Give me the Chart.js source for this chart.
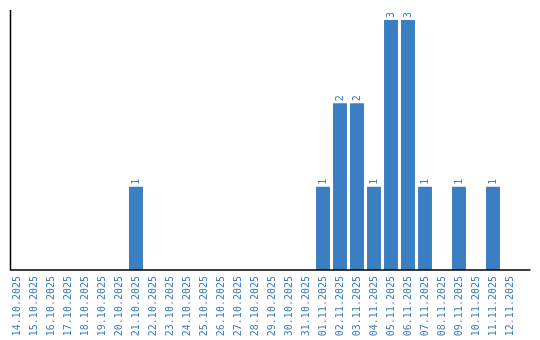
<!DOCTYPE html>
<html>
<head>
<meta charset="utf-8">
<script src="https://cdn.jsdelivr.net/npm/chart.js@4/dist/chart.umd.min.js"></script>
<style>
  html, body { margin: 0; padding: 0; background: #fff; }
  #wrap { width: 540px; height: 340px; }
</style>
</head>
<body>
<div id="wrap"><canvas id="barChart"></canvas></div>
<script>
const dates = ['14.10.2025', '15.10.2025', '16.10.2025', '17.10.2025', '18.10.2025', '19.10.2025',
    '20.10.2025', '21.10.2025', '22.10.2025', '23.10.2025', '24.10.2025', '25.10.2025',
    '26.10.2025', '27.10.2025', '28.10.2025', '29.10.2025', '30.10.2025', '31.10.2025',
    '01.11.2025', '02.11.2025', '03.11.2025', '04.11.2025', '05.11.2025', '06.11.2025',
    '07.11.2025', '08.11.2025', '09.11.2025', '10.11.2025', '11.11.2025', '12.11.2025'];
const counts = [0, 0, 0, 0, 0, 0, 0, 1, 0, 0, 0, 0, 0, 0, 0, 0, 0, 0,
    1, 2, 2, 1, 3, 3, 1, 0, 1, 0, 1, 0];

const blue = '#3b7ec2';

// axis lines: y sits a bit inside the first category, x runs past the last one
const axisLines = {
    id: 'axisLines',
    afterDatasetsDraw(chart) {
        const c = chart.ctx;
        const a = chart.chartArea;
        c.save();
        c.strokeStyle = '#000';
        c.lineWidth = 1.5;
        c.beginPath();
        c.moveTo(a.left + 2, a.top);
        c.lineTo(a.left + 2, a.bottom);
        c.lineTo(a.right + 12, a.bottom);
        c.stroke();
        c.restore();
    }
};

// value labels, rotated, over each bar
const barLabels = {
    id: 'barLabels',
    afterDatasetsDraw(chart) {
        const c = chart.ctx;
        const meta = chart.getDatasetMeta(0);
        c.save();
        c.fillStyle = blue;
        c.font = '10px "DejaVu Sans Mono"';
        c.textAlign = 'left';
        c.textBaseline = 'middle';
        meta.data.forEach((bar, i) => {
            if (!counts[i]) return;
            c.save();
            c.translate(bar.x, bar.y - 2);
            c.rotate(-Math.PI / 2);
            c.fillText(String(counts[i]), 0, 0);
            c.restore();
        });
        c.restore();
    }
};

const ctx = document.getElementById('barChart').getContext('2d');
const myChart = new Chart(ctx, {
    type: 'bar',
    data: {
        labels: dates,
        datasets: [{
            data: counts,
            backgroundColor: blue,
            borderWidth: 0,
            barPercentage: 0.82,
            categoryPercentage: 1
        }]
    },
    options: {
        responsive: true,
        maintainAspectRatio: false,
        animation: false,
        layout: { padding: { top: 10, right: 21.5, left: 0, bottom: 0 } },
        plugins: { legend: { display: false }, tooltip: { enabled: false } },
        scales: {
            x: {
                grid: { display: false, drawTicks: false },
                border: { display: false },
                afterFit(scale) { scale.height = 70; },
                ticks: {
                    color: blue,
                    font: { family: 'DejaVu Sans Mono', size: 10 },
                    minRotation: 90,
                    maxRotation: 90,
                    autoSkip: false,
                    padding: 6
                }
            },
            y: {
                min: 0,
                max: 3.12,
                grid: { display: false },
                border: { display: false },
                afterFit(scale) { scale.width = 8.5; },
                ticks: { display: false }
            }
        }
    },
    plugins: [axisLines, barLabels]
});
</script>
</body>
</html>
